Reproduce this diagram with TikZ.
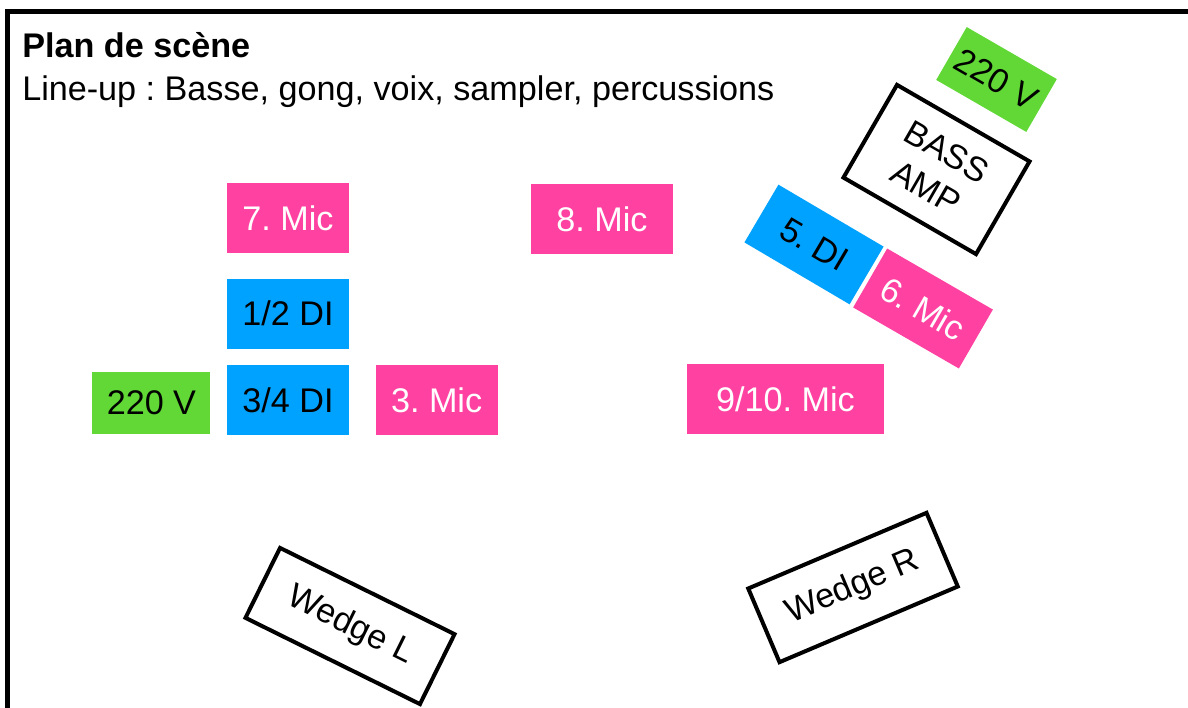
\documentclass[tikz,border=0pt]{standalone}
\usepackage{fontspec}
\setmainfont{Liberation Sans}
\usepackage{xcolor}
\usepackage{tikz}
\usetikzlibrary{positioning}
\frenchspacing

\definecolor{micpink}{RGB}{255,66,161}
\definecolor{diblue}{RGB}{0,162,255}
\definecolor{powergreen}{RGB}{97,216,54}

\tikzset{
    mic/.style={fill=micpink, text=white, inner sep=0pt, minimum width=3.05cm, minimum height=1.75cm},
    di/.style={fill=diblue, text=black, inner sep=0pt, minimum width=3.05cm, minimum height=1.75cm},
    power/.style={fill=powergreen, text=black, inner sep=0pt, minimum width=2.95cm, minimum height=1.55cm},
    gear/.style={draw, line width=0.1cm, fill=white, align=center, inner sep=0pt}
}

\begin{document}
\begin{tikzpicture}[x=0.025cm, y=-0.025cm, font=\fontsize{24.3}{29.5}\selectfont]
    \useasboundingbox (0,0) rectangle (1188,708);
    % stage frame (runs off the page on the right and bottom)
    \draw [line width=0.125cm] (1200,11.5) -| (7.5,720);

    \node [anchor=base west, inner sep=0pt, font=\fontsize{24.3}{29.5}\selectfont\bfseries] (title) at (22,58) {Plan de scène};
    \node [anchor=base west, inner sep=0pt] (lineup) at (22,101) {Line-up : Basse, gong, voix, sampler, percussions};

    \node [mic] (mic7) at (288,218) {7. Mic};
    \node [di, below=0.625cm of mic7] (di12) {1/2 DI};
    \node [di, below=0.4cm of di12] (di34) {3/4 DI};
    \node [power, left=0.4cm of di34, yshift=-0.075cm] (powerL) {220 V};
    \node [mic, right=0.65cm of di34] (mic3) {3. Mic};
    \node [mic, minimum width=3.55cm] (mic8) at (602,219) {8. Mic};
    \node [mic, minimum width=4.9cm] (mic910) at (785.5,399) {9/10. Mic};

    % bass corner, all turned
    \node [power, minimum width=2.6cm, minimum height=1.525cm, rotate=-30] (powerR) at (996.5,79.5) {220 V};
    \node [gear, minimum width=3.825cm, minimum height=2.675cm, rotate=-30] (amp) at (936.5,169.5) {BASS\\AMP};
    \node [di, minimum height=1.675cm, rotate=-30.5] (di5) at (814,244.5) {5. DI};
    \node [mic, minimum height=1.7cm, rotate=-30] (mic6) at (923,308.5) {6. Mic};

    % monitors
    \node [gear, minimum width=4.865cm, minimum height=1.95cm, rotate=-26.3] (wedgeL) at (350,626) {Wedge L};
    \node [gear, minimum width=4.84cm, minimum height=2cm, rotate=23] (wedgeR) at (853,587.5) {Wedge R};

\end{tikzpicture}
\end{document}
